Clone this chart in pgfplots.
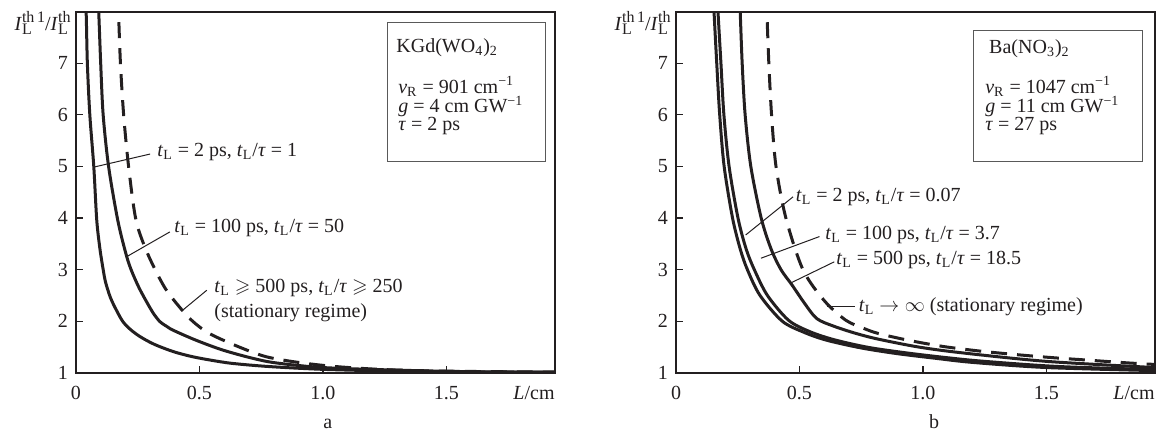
\documentclass[border=0pt]{standalone}
\usepackage{fontspec}
\setmainfont{Liberation Serif}
\usepackage{amssymb}
\usepackage{pgfplots}
\pgfplotsset{compat=1.18}
\definecolor{ink}{HTML}{231F20}
\newcommand{\tL}{\textit{t}\textsubscript{L}}
\newcommand{\supsub}[2]{\makebox[0pt][l]{\raisebox{-0.5ex}{\fontsize{8}{8}\selectfont #2}}\raisebox{0.9ex}{\fontsize{8}{8}\selectfont #1}}
\newcommand{\ylab}{\textit{I}\supsub{th\,1}{L}/\textit{I}\supsub{th}{L}}
\newcommand{\fs}{\fontsize{10}{12}\selectfont}
\pgfplotsset{panel/.style={
  width=239.5pt,height=180.5pt,scale only axis,
  xmin=0,xmax=1.94,ymin=1,ymax=8,
  xtick={0,0.5,1,1.5},xticklabels={0,0.5,1.0,1.5},
  ytick={1,2,3,4,5,6,7},
  xtick pos=bottom, ytick pos=left,
  tick align=inside, major tick length=3.5pt,
  axis line style={ink,line width=0.9pt},
  tick style={ink,line width=0.6pt},
  font=\fs, ticklabel style={font=\fs, text=ink},
  yticklabel style={xshift=-0.5pt},
  xticklabel style={anchor=base,yshift=-13.5pt},
  /pgf/number format/assume math mode=true,
  clip mode=individual,
},
curve/.style={ink,line width=1.5pt,smooth,tension=0.5,mark=none},
dcurve/.style={curve,dash pattern=on 8pt off 5pt}}
\tikzset{lead/.style={ink,line width=0.5pt},
lab/.style={inner sep=0pt,text=ink}}
\begin{document}
\begin{tikzpicture}[x=0.5pt,y=0.5pt]
\path[use as bounding box] (0,0) rectangle (1166,434);
% ---------------- panel a ----------------
\begin{axis}[panel,at={(38pt,30.65pt)},anchor=south west]
\addplot[curve] coordinates {(0.035,8.3)(0.041,8)(0.046,7)(0.056,6)(0.072,5)(0.084,3.96)(0.097,3.4)(0.11,3)(0.12,2.75)(0.14,2.45)(0.165,2.2)(0.19,1.99)(0.22,1.84)(0.256,1.71)(0.3,1.59)(0.337,1.51)(0.4,1.4)(0.472,1.31)(0.55,1.24)(0.634,1.18)(0.78,1.12)(1.0,1.065)(1.3,1.03)(1.6,1.015)(1.94,1.01)};
\addplot[curve] coordinates {(0.088,8.3)(0.092,8)(0.1,7)(0.11,6)(0.132,5)(0.169,3.96)(0.202,3.31)(0.223,3)(0.255,2.65)(0.29,2.34)(0.315,2.14)(0.34,1.99)(0.37,1.89)(0.395,1.82)(0.486,1.63)(0.594,1.44)(0.715,1.28)(0.81,1.19)(1.0,1.1)(1.3,1.05)(1.6,1.02)(1.94,1.01)};
\addplot[dcurve] coordinates {(0.168,8.3)(0.172,8)(0.18,7)(0.193,6)(0.213,5)(0.243,3.96)(0.29,3.31)(0.357,2.67)(0.418,2.28)(0.472,2)(0.54,1.76)(0.66,1.5)(0.77,1.31)(0.9,1.2)(1.05,1.12)(1.25,1.06)(1.5,1.03)(1.94,1.01)};
\draw[lead] (axis cs:0.075,4.99) -- (axis cs:0.30,5.24);
\draw[lead] (axis cs:0.209,3.26) -- (axis cs:0.38,3.73);
\draw[lead] (axis cs:0.429,2.2) -- (axis cs:0.53,2.60);
\node[lab,anchor=west] at (axis cs:0.328,5.27) {\tL{} = 2 ps, \tL/\textit{τ} = 1};
\node[lab,anchor=west] at (axis cs:0.397,3.80) {\tL{} = 100 ps, \tL/\textit{τ} = 50};
\node[lab,anchor=west] at (axis cs:0.559,2.64) {\tL{} $\geqslant$ 500 ps, \tL/\textit{τ} $\geqslant$ 250};
\node[lab,anchor=west] at (axis cs:0.559,2.16) {(stationary regime)};
\draw[black!65,line width=0.5pt] (axis cs:1.263,5.09) rectangle (axis cs:1.90,7.80);
\node[lab,anchor=base west] at (axis cs:1.296,7.21) {KGd(WO\textsubscript{4})\textsubscript{2}};
\node[lab,anchor=base west] at (axis cs:1.304,6.42) {\textit{ν}\textsubscript{R} = 901 cm\textsuperscript{−1}};
\node[lab,anchor=base west] at (axis cs:1.304,6.05) {\textit{g} = 4 cm GW\textsuperscript{−1}};
\node[lab,anchor=base west] at (axis cs:1.304,5.70) {\textit{τ} = 2 ps};
\node[lab,anchor=base east] at (axis cs:0,7.64) [xshift=-2.5pt] {\ylab};
\node[lab,anchor=base east] at (rel axis cs:1,0) [yshift=-13.5pt] {\textit{L}/cm};
\node[lab,anchor=base] at (axis cs:1.02,1) [yshift=-28pt] {a};
\end{axis}
% ---------------- panel b ----------------
\begin{axis}[panel,at={(338pt,30.65pt)},anchor=south west]
\addplot[curve] coordinates {(0.152,8.3)(0.154,8)(0.165,7)(0.177,6)(0.195,5)(0.229,4)(0.26,3.4)(0.289,3)(0.34,2.5)(0.43,2)(0.52,1.78)(0.61,1.63)(0.75,1.48)(0.895,1.37)(1.05,1.28)(1.2,1.2)(1.5,1.1)(1.94,1.04)};
\addplot[curve] coordinates {(0.167,8.3)(0.17,8)(0.182,7)(0.194,6)(0.215,5)(0.251,4)(0.284,3.4)(0.317,3)(0.37,2.5)(0.455,2.02)(0.54,1.8)(0.64,1.64)(0.78,1.49)(0.94,1.38)(1.1,1.29)(1.25,1.22)(1.55,1.12)(1.94,1.06)};
\addplot[curve] coordinates {(0.257,8.3)(0.26,8)(0.268,7)(0.28,6)(0.303,5)(0.345,4)(0.385,3.4)(0.425,3)(0.47,2.7)(0.52,2.35)(0.57,2.05)(0.64,1.9)(0.73,1.76)(0.82,1.65)(0.98,1.5)(1.15,1.39)(1.5,1.22)(1.94,1.1)};
\addplot[dcurve] coordinates {(0.366,8.3)(0.368,8)(0.376,7)(0.387,6)(0.405,5)(0.445,4)(0.514,3)(0.6,2.4)(0.687,2.02)(0.76,1.86)(0.82,1.76)(0.94,1.63)(1.08,1.51)(1.23,1.42)(1.38,1.35)(1.53,1.29)(1.68,1.24)(1.83,1.19)(1.94,1.16)};
\draw[lead] (axis cs:0.282,3.67) -- (axis cs:0.474,4.41);
\draw[lead] (axis cs:0.344,3.22) -- (axis cs:0.581,3.64);
\draw[lead] (axis cs:0.469,2.75) -- (axis cs:0.641,3.15);
\draw[lead] (axis cs:0.611,2.28) -- (axis cs:0.724,2.28);
\node[lab,anchor=west] at (axis cs:0.484,4.41) {\tL{} = 2 ps, \tL/\textit{τ} = 0.07};
\node[lab,anchor=west] at (axis cs:0.603,3.67) {\tL{} = 100 ps, \tL/\textit{τ} = 3.7};
\node[lab,anchor=west] at (axis cs:0.648,3.18) {\tL{} = 500 ps, \tL/\textit{τ} = 18.5};
\node[lab,anchor=west] at (axis cs:0.739,2.28) {\tL{} $\rightarrow\infty$ (stationary regime)};
\draw[black!65,line width=0.5pt] (axis cs:1.206,5.09) rectangle (axis cs:1.89,7.64);
\node[lab,anchor=base west] at (axis cs:1.267,7.19) {Ba(NO\textsubscript{3})\textsubscript{2}};
\node[lab,anchor=base west] at (axis cs:1.251,6.42) {\textit{ν}\textsubscript{R} = 1047 cm\textsuperscript{−1}};
\node[lab,anchor=base west] at (axis cs:1.251,6.05) {\textit{g} = 11 cm GW\textsuperscript{−1}};
\node[lab,anchor=base west] at (axis cs:1.251,5.70) {\textit{τ} = 27 ps};
\node[lab,anchor=base east] at (axis cs:0,7.64) [xshift=-2.5pt] {\ylab};
\node[lab,anchor=base east] at (rel axis cs:1,0) [yshift=-13.5pt] {\textit{L}/cm};
\node[lab,anchor=base] at (axis cs:1.045,1) [yshift=-28pt] {b};
\end{axis}
\end{tikzpicture}
\end{document}
